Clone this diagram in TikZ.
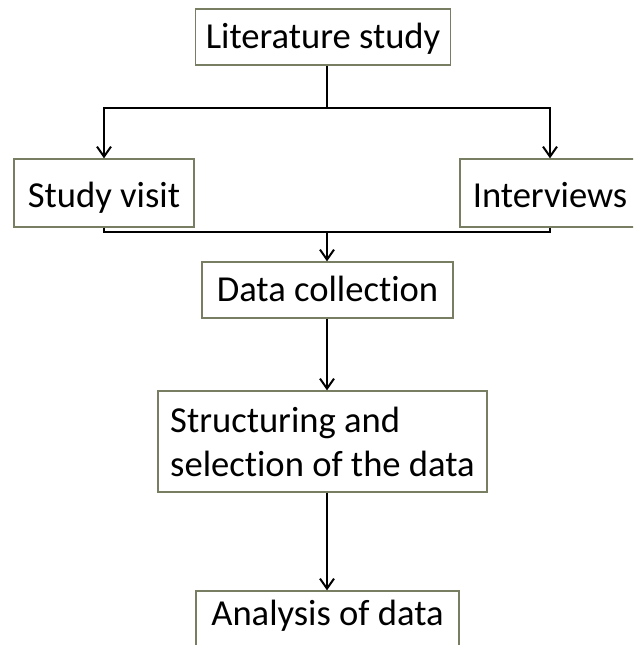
\documentclass[tikz,border=0pt]{standalone}
\usepackage{fontspec}
\setmainfont{Carlito}[Ligatures={NoCommon}]
\usepackage{tikz}
\usetikzlibrary{arrows.meta}
\definecolor{boxline}{RGB}{120,126,98}

\begin{document}
\begin{tikzpicture}[x=1pt,y=-1pt]
\tikzset{stage/.style = {shape=rectangle,draw=boxline,line width=1.3pt,fill=white,inner sep=0pt,
  font=\fontsize{36.6}{44}\selectfont}}
\tikzset{oneline/.style = {stage,text height=30pt,text depth=8pt}}
\tikzset{link/.style = {line width=2pt,black}}
\tikzset{edge/.style = {link,-{Straight Barb[length=10pt,width=14pt,line width=2pt]}}}
\useasboundingbox (0,0) rectangle (633,645);
\clip (0,0) rectangle (633,645);
% main
\node[oneline,minimum width=255,minimum height=56] (lit) at (323,37) {Literature study};
\node[oneline,minimum width=180,minimum height=68,text height=34pt,text depth=6pt] (sv) at  (104,193) {Study visit};
\node[oneline,minimum width=180,minimum height=68,text height=34pt,text depth=6pt] (iv) at  (550,193) {Interviews};
\node[oneline,minimum width=251,minimum height=56] (dc) at  (327.5,290) {Data collection};
\node[stage,minimum width=329,minimum height=101,align=left] (sd) at  (322.5,441.5) {Structuring and\\selection of the data};
\node[oneline,minimum width=263,minimum height=68,text height=22pt,text depth=22pt] (an) at  (327.5,625) {Analysis of data};

\coordinate (split) at (327,108);
\coordinate (merge) at (327,232);

%edges
\draw[link] (lit.south -| split) -- (split);
\draw[edge] (split) -| (sv.north);
\draw[edge] (split) -| (iv.north);
\draw[link] (sv.south) |- (merge) -| (iv.south);
\draw[edge] (merge) -- (dc.north -| merge);
\draw[edge] (dc.south -| merge) -- (sd.north -| merge);
\draw[edge] (sd.south -| merge) -- (an.north -| merge);

\end{tikzpicture}
\end{document}
